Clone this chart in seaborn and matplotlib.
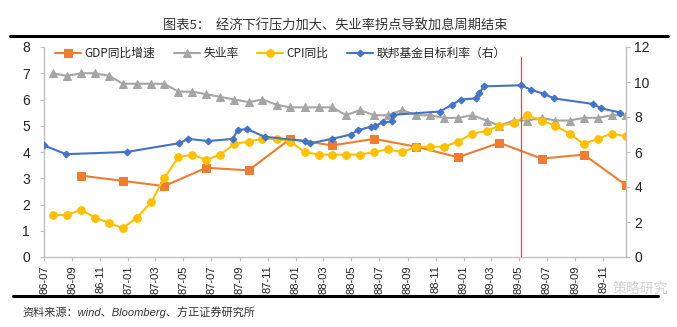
import numpy as np
import pandas as pd
import matplotlib
matplotlib.use("Agg")
import matplotlib.pyplot as plt
import matplotlib.dates as mdates
import seaborn as sns

# ---------------- data ----------------
month_start = "1986-07-01"
n_months = 42
unemployment = [7.0, 6.9, 7.0, 7.0, 6.9, 6.6,
                6.6, 6.6, 6.6, 6.3, 6.3, 6.2, 6.1, 6.0, 5.9, 6.0, 5.8, 5.7,
                5.7, 5.7, 5.7, 5.4, 5.6, 5.4, 5.4, 5.6, 5.4, 5.4, 5.3, 5.3,
                5.4, 5.2, 5.0, 5.2, 5.2, 5.3, 5.2, 5.2, 5.3, 5.3, 5.4, 5.4]
cpi = [1.6, 1.6, 1.8, 1.5, 1.3, 1.1,
       1.5, 2.1, 3.0, 3.8, 3.9, 3.7, 3.9, 4.3, 4.4, 4.5, 4.5, 4.4,
       4.0, 3.9, 3.9, 3.9, 3.9, 4.0, 4.1, 4.0, 4.2, 4.2, 4.2, 4.4,
       4.7, 4.8, 5.0, 5.1, 5.4, 5.2, 5.0, 4.7, 4.3, 4.5, 4.7, 4.6]
gdp_dates = ["1986-09-20", "1986-12-20", "1987-03-20", "1987-06-20", "1987-09-20",
             "1987-12-20", "1988-03-20", "1988-06-20", "1988-09-20", "1988-12-20",
             "1989-03-20", "1989-06-20", "1989-09-20", "1989-12-20"]
gdp = [3.1, 2.9, 2.7, 3.4, 3.3, 4.5, 4.25, 4.5, 4.2, 3.8, 4.35, 3.75, 3.9, 2.75]
fed_dates = ["1986-07-01", "1986-08-18", "1986-12-28", "1987-04-21", "1987-05-12",
             "1987-06-24", "1987-08-17", "1987-08-27", "1987-09-16", "1987-10-25",
             "1988-01-20", "1988-02-02", "1988-03-20", "1988-04-30", "1988-05-16",
             "1988-06-12", "1988-06-22", "1988-07-10", "1988-07-28", "1988-07-30",
             "1988-11-10", "1988-12-06", "1988-12-26", "1989-01-27", "1989-02-04",
             "1989-02-14", "1989-05-07", "1989-05-27", "1989-06-26", "1989-07-17",
             "1989-10-09", "1989-10-27", "1989-12-09"]
fed_rate = [6.375, 5.875, 6.0, 6.5, 6.75, 6.625, 6.75, 7.25, 7.3125, 6.875,
            6.625, 6.5, 6.75, 7.0, 7.25, 7.4375, 7.5, 7.6875, 7.75, 8.125,
            8.3125, 8.6875, 9.0, 9.0625, 9.375, 9.75, 9.8125, 9.5625, 9.3125, 9.0625,
            8.75, 8.5, 8.25]
marker_date = "1989-05-07"
labels = ["GDP同比增速", "失业率", "CPI同比", "联邦基金目标利率（右）"]
title = "图表5：  经济下行压力加大、失业率拐点导致加息周期结束"
source = "资料来源：wind、Bloomberg、方正证券研究所"

months = pd.date_range(month_start, periods=n_months, freq="MS") + pd.Timedelta(days=19)
df_m = pd.DataFrame({"date": months, "unemp": unemployment, "cpi": cpi})
df_g = pd.DataFrame({"date": pd.to_datetime(gdp_dates), "gdp": gdp})
df_f = pd.DataFrame({"date": pd.to_datetime(fed_dates), "fed": fed_rate})

# ---------------- style ----------------
sns.set_theme(style="white")
plt.rcParams["font.family"] = ["Liberation Sans", "Noto Sans CJK SC", "DejaVu Sans"]

c_gdp = "#ED7D31"
c_un = "#A5A5A5"
c_cpi = "#FFC000"
c_fed = "#4472C4"
spine_c = "#BFBFBF"

fig = plt.figure(figsize=(6.77, 3.27), dpi=100)
W, H = 677, 327
L, R, T, B = 44, 626, 47, 257
ax = fig.add_axes([L / W, 1 - B / H, (R - L) / W, (B - T) / H])
ax2 = ax.twinx()

sns.lineplot(data=df_g, x="date", y="gdp", ax=ax, color=c_gdp, lw=1.5,
             marker="s", markersize=5.5, markeredgecolor=c_gdp, label=labels[0], legend=False)
sns.lineplot(data=df_m, x="date", y="unemp", ax=ax, color=c_un, lw=1.5,
             marker="^", markersize=5.5, markeredgecolor=c_un, label=labels[1], legend=False)
sns.lineplot(data=df_m, x="date", y="cpi", ax=ax, color=c_cpi, lw=1.5,
             marker="o", markersize=5.5, markeredgecolor=c_cpi, label=labels[2], legend=False)
sns.lineplot(data=df_f, x="date", y="fed", ax=ax2, color=c_fed, lw=1.5,
             marker="D", markersize=3.5, markeredgecolor=c_fed, label=labels[3], legend=False)

ax.axvline(pd.Timestamp(marker_date), ymin=0, ymax=0.954, color="#E8474C", lw=0.9, zorder=5)

ax.set_xlim(pd.Timestamp("1986-07-01"), pd.Timestamp("1989-12-21"))
ax.set_ylim(0, 8)
ax2.set_ylim(0, 12)
ax.set_yticks(range(0, 9))
ax2.set_yticks(range(0, 13, 2))
ax.xaxis.set_major_locator(mdates.MonthLocator(bymonth=[1, 3, 5, 7, 9, 11]))
ax.xaxis.set_major_formatter(mdates.DateFormatter("%y-%m"))
ax.set_xlabel("")
ax.set_ylabel("")
ax2.set_ylabel("")

for a in (ax, ax2):
    for s in a.spines.values():
        s.set_color(spine_c)
        s.set_linewidth(1.0)
    a.spines["top"].set_visible(False)
    a.grid(False)
ax.spines["right"].set_visible(False)
ax2.spines["left"].set_visible(False)
ax2.spines["bottom"].set_visible(False)

ax.tick_params(axis="y", which="both", left=True, length=3, width=0.8, color=spine_c,
               labelsize=10, pad=7, labelcolor="#222222")
ax.tick_params(axis="x", which="both", bottom=True, length=3, width=0.8, color=spine_c,
               labelsize=8, pad=3, labelrotation=90, labelcolor="#222222")
ax2.tick_params(axis="y", which="both", right=True, length=3, width=0.8, color=spine_c,
                labelsize=10, pad=3, labelcolor="#222222")

h1, l1 = ax.get_legend_handles_labels()
h2, l2 = ax2.get_legend_handles_labels()
leg = ax2.legend(h1 + h2, l1 + l2, loc="upper left", ncol=4, frameon=False,
                 bbox_to_anchor=(0.005, 1.04), prop={"family": ["Noto Sans CJK SC"], "size": 8.5},
                 handlelength=2.2, handletextpad=0.3, columnspacing=1.55, borderaxespad=0.3)

# title and rules
fig.text(335 / W, 1 - 26 / H, title, ha="center", va="center", fontsize=9.5,
         color="#333333", family=["Noto Sans CJK SC", "DejaVu Sans"])
fig.add_artist(plt.Line2D([10 / W, 668 / W], [1 - 36 / H, 1 - 36 / H], color="black", lw=2.2))
fig.add_artist(plt.Line2D([13 / W, 658 / W], [1 - 296 / H, 1 - 296 / H], color="black", lw=2.2))
fig.text(22 / W, 1 - 312 / H, source, ha="left", va="center", fontsize=8,
         style="italic", color="#333333", family=["Liberation Sans", "Noto Sans CJK SC"])
fig.text(613 / W, 1 - 289 / H, "策略研究", ha="left", va="center", fontsize=10,
         color="#C8C8C8", alpha=0.8, family=["Noto Sans CJK SC"])

fig.savefig("out.png", dpi=100, facecolor="white")
